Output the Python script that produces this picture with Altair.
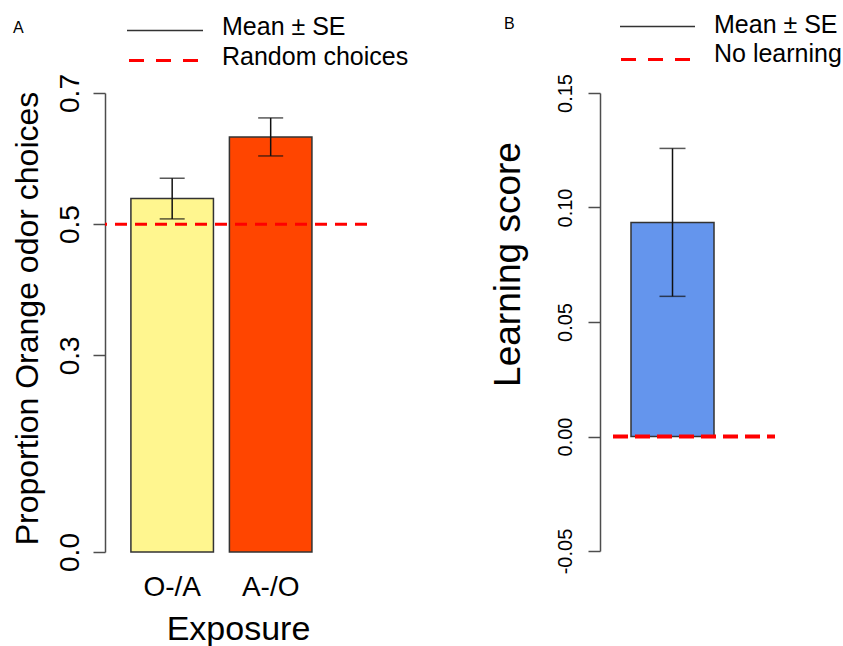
import altair as alt
import pandas as pd

# ---------------- data ----------------
exposure = ["O-/A", "A-/O"]
prop_mean = [0.539, 0.633]
prop_se = [0.031, 0.029]
bar_colors_a = ["#FFF68F", "#FF4500"]
random_level = [0.5]
ticks_a = [0.0, 0.3, 0.5, 0.7]

groups_b = ["Learning"]
learn_mean = [0.0935]
learn_se = [0.0323]
bar_colors_b = ["#6495ED"]
no_learning = [0.0]
ticks_b = [-0.05, 0.0, 0.05, 0.10, 0.15]

legend_a = ["Mean ± SE", "Random choices"]
legend_b = ["Mean ± SE", "No learning"]
panel_labels = ["A", "B"]

FONT = "Liberation Sans"
ERR = "#111111"
AXC = "#4d4d4d"
RED = "#FF0000"

df_a = pd.DataFrame({
    "exposure": exposure,
    "mean": prop_mean,
    "lo": [m - s for m, s in zip(prop_mean, prop_se)],
    "hi": [m + s for m, s in zip(prop_mean, prop_se)],
    "color": bar_colors_a,
})
df_b = pd.DataFrame({
    "group": groups_b,
    "mean": learn_mean,
    "lo": [m - s for m, s in zip(learn_mean, learn_se)],
    "hi": [m + s for m, s in zip(learn_mean, learn_se)],
    "color": bar_colors_b,
})


def legend_layers(labels, letter, line1, line2, txt_x, txt_y, letter_xy, dash):
    out = []
    one = pd.DataFrame({"k": [0]})
    out.append(alt.Chart(one).mark_rule(color="#333333", strokeWidth=1.5).encode(
        x=alt.value(line1[0]), x2=alt.value(line1[1]), y=alt.value(line1[2])))
    out.append(alt.Chart(one).mark_rule(color=RED, strokeWidth=3, strokeDash=dash).encode(
        x=alt.value(line2[0]), x2=alt.value(line2[1]), y=alt.value(line2[2])))
    for lab, ty in zip(labels, txt_y):
        out.append(alt.Chart(pd.DataFrame({"label": [lab]})).mark_text(
            font=FONT, fontSize=25, align="left", baseline="middle", color="black").encode(
            x=alt.value(txt_x), y=alt.value(ty), text="label:N"))
    out.append(alt.Chart(pd.DataFrame({"label": [letter]})).mark_text(
        font=FONT, fontSize=16, align="left", baseline="middle", color="black").encode(
        x=alt.value(letter_xy[0]), y=alt.value(letter_xy[1]), text="label:N"))
    return out


# ---------------- panel A ----------------
xa = alt.X("exposure:N", sort=exposure,
           scale=alt.Scale(paddingInner=0.162, paddingOuter=0.411, align=0.32),
           axis=alt.Axis(title="Exposure", domain=False, ticks=False, tickSize=0,
                         labelAngle=0, labelFontSize=28, labelFont=FONT, labelColor="black",
                         labelPadding=43, labelBaseline="alphabetic",
                         titleFont=FONT, titleFontSize=34, titleFontWeight="normal",
                         titleColor="black", titleBaseline="alphabetic", titleY=87, titleX=133))
ya_scale = alt.Scale(domain=[0, 0.7], nice=False, zero=True)
ya = alt.Y("mean:Q", scale=ya_scale,
           axis=alt.Axis(title="Proportion Orange odor choices", values=ticks_a, format=".1f",
                         grid=False, domainColor=AXC, domainWidth=1.5, tickColor=AXC,
                         tickWidth=1.5, tickSize=12, labelAngle=270, labelAlign="center",
                         labelBaseline="alphabetic", labelPadding=15, labelFontSize=28,
                         labelFont=FONT, labelColor="black",
                         titleFont=FONT, titleFontSize=32, titleFontWeight="normal",
                         titleColor="black", titleBaseline="alphabetic", titleAngle=270,
                         titleX=-68, titleY=225, titleAlign="center"))

bars_a = alt.Chart(df_a).mark_bar(stroke="#333333", strokeWidth=1.5).encode(
    x=xa, y=ya, color=alt.Color("color:N", scale=None))
err_a = alt.Chart(df_a).mark_rule(color=ERR, strokeWidth=1.5).encode(
    x=alt.X("exposure:N", sort=exposure), y=alt.Y("lo:Q", scale=ya_scale), y2="hi:Q")
cap_hi_a = alt.Chart(df_a).mark_tick(color=ERR, thickness=1.5, size=25).encode(
    x=alt.X("exposure:N", sort=exposure), y=alt.Y("hi:Q", scale=ya_scale))
cap_lo_a = alt.Chart(df_a).mark_tick(color=ERR, thickness=1.5, size=25).encode(
    x=alt.X("exposure:N", sort=exposure), y=alt.Y("lo:Q", scale=ya_scale))
ref_a = alt.Chart(pd.DataFrame({"level": random_level})).mark_rule(
    color=RED, strokeWidth=3, strokeDash=[12, 8]).encode(y=alt.Y("level:Q", scale=ya_scale))

panel_a = alt.layer(
    bars_a, ref_a, err_a, cap_hi_a, cap_lo_a,
    *legend_layers(legend_a, panel_labels[0], (22, 98, -62.5), (24, 93, -32.5), 117,
                   (-66, -36), (-92, -65), [15, 12]),
).properties(width=262, height=459)

# ---------------- panel B ----------------
xb = alt.X("group:N", scale=alt.Scale(paddingInner=0, paddingOuter=0.554, align=0.337), axis=None)
yb_scale = alt.Scale(domain=[-0.05, 0.15], nice=False, zero=False)
yb = alt.Y("mean:Q", scale=yb_scale,
           axis=alt.Axis(title="Learning score", values=ticks_b,
                         labelExpr="datum.value < 0 ? '-' + format(-datum.value, '.2f') : format(datum.value, '.2f')",
                         grid=False, domainColor=AXC, domainWidth=1.5, tickColor=AXC,
                         tickWidth=1.5, tickSize=12, labelAngle=270, labelAlign="center",
                         labelBaseline="alphabetic", labelPadding=17, labelFontSize=20,
                         labelFont=FONT, labelColor="black",
                         titleFont=FONT, titleFontSize=37, titleFontWeight="normal",
                         titleColor="black", titleBaseline="alphabetic", titleAngle=270,
                         titleX=-81, titleY=171, titleAlign="center"))

bars_b = alt.Chart(df_b).mark_bar(stroke="#333333", strokeWidth=1.5).encode(
    x=xb, y=yb, y2=alt.datum(0), color=alt.Color("color:N", scale=None))
err_b = alt.Chart(df_b).mark_rule(color=ERR, strokeWidth=1.5).encode(
    x=alt.X("group:N"), y=alt.Y("lo:Q", scale=yb_scale), y2="hi:Q")
cap_hi_b = alt.Chart(df_b).mark_tick(color=ERR, thickness=1.5, size=26).encode(
    x=alt.X("group:N"), y=alt.Y("hi:Q", scale=yb_scale))
cap_lo_b = alt.Chart(df_b).mark_tick(color=ERR, thickness=1.5, size=26).encode(
    x=alt.X("group:N"), y=alt.Y("lo:Q", scale=yb_scale))
ref_b = alt.Chart(pd.DataFrame({"level": no_learning})).mark_rule(
    color=RED, strokeWidth=4, strokeDash=[15, 7]).encode(
    y=alt.Y("level:Q", scale=yb_scale), x=alt.value(13), x2=alt.value(175))

panel_b = alt.layer(
    bars_b, err_b, cap_hi_b, cap_lo_b, ref_b,
    *legend_layers(legend_b, panel_labels[1], (20, 95, -66.5), (21, 91, -33.5), 114,
                   (-68, -39), (-96, -69), [15, 12]),
).properties(width=175, height=458)

chart = alt.hconcat(panel_a, panel_b, spacing=80).properties(
    padding={"left": 10, "top": 13, "right": 0, "bottom": 0}
).configure(font=FONT, view=alt.ViewConfig(stroke=None))

chart.save("out.html", embed_options={"renderer": "svg", "actions": False})
